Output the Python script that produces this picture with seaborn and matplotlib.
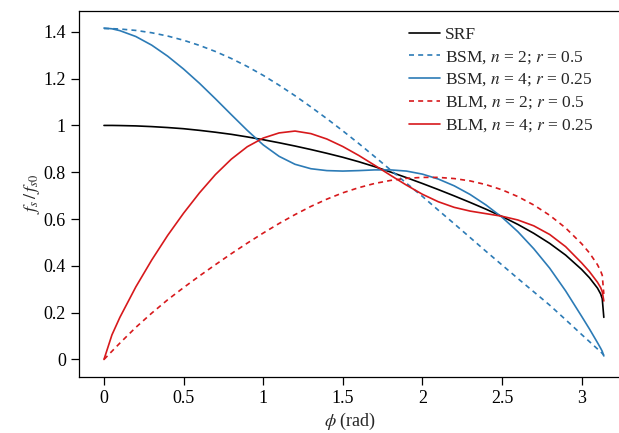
import matplotlib
matplotlib.use("Agg")
import matplotlib.pyplot as plt
import seaborn as sns

# phi grid (rad)
phi = [0, 0.05, 0.1, 0.2, 0.3, 0.4, 0.5, 0.6, 0.7, 0.8, 0.9, 1.0, 1.1, 1.2, 1.3,
       1.4, 1.5, 1.6, 1.7, 1.8, 1.9, 2.0, 2.1, 2.2, 2.3, 2.4, 2.5, 2.6, 2.7, 2.8,
       2.9, 3.0, 3.05, 3.1, 3.12, 3.13, 3.14]

srf = [1.0, 1.0, 0.9995, 0.998, 0.995, 0.991, 0.986, 0.979, 0.971, 0.962, 0.951,
       0.939, 0.926, 0.912, 0.897, 0.881, 0.864, 0.845, 0.824, 0.801, 0.777, 0.752,
       0.726, 0.699, 0.671, 0.642, 0.611, 0.577, 0.539, 0.496, 0.446, 0.385, 0.349,
       0.305, 0.28, 0.26, 0.18]

bsm_n2 = [1.414, 1.4135, 1.412, 1.406, 1.396, 1.382, 1.364, 1.342, 1.316, 1.286,
          1.252, 1.214, 1.172, 1.127, 1.079, 1.029, 0.977, 0.923, 0.867, 0.81,
          0.753, 0.697, 0.638, 0.58, 0.521, 0.462, 0.404, 0.346, 0.289, 0.232,
          0.17, 0.107, 0.076, 0.045, 0.033, 0.026, 0.018]

bsm_n4 = [1.416, 1.413, 1.405, 1.38, 1.343, 1.296, 1.241, 1.18, 1.114, 1.046, 0.979,
          0.917, 0.868, 0.834, 0.815, 0.807, 0.805, 0.807, 0.81, 0.81, 0.805, 0.792,
          0.771, 0.742, 0.705, 0.66, 0.608, 0.546, 0.473, 0.39, 0.293, 0.185, 0.13,
          0.072, 0.048, 0.035, 0.015]

blm_n2 = [0.0, 0.035, 0.07, 0.137, 0.198, 0.255, 0.307, 0.357, 0.405, 0.452, 0.497,
          0.54, 0.581, 0.619, 0.654, 0.685, 0.712, 0.734, 0.752, 0.765, 0.774, 0.778,
          0.778, 0.773, 0.763, 0.747, 0.725, 0.696, 0.66, 0.616, 0.562, 0.495, 0.455,
          0.405, 0.378, 0.36, 0.28]

blm_n4 = [0.0, 0.105, 0.18, 0.31, 0.425, 0.53, 0.625, 0.712, 0.79, 0.856, 0.909,
          0.946, 0.968, 0.976, 0.965, 0.942, 0.91, 0.872, 0.83, 0.787, 0.745, 0.706,
          0.674, 0.65, 0.634, 0.623, 0.612, 0.596, 0.571, 0.534, 0.482, 0.413, 0.375,
          0.33, 0.307, 0.29, 0.25]

labels = ["SRF",
          r"BSM, $n$ = 2; $r$ = 0.5",
          r"BSM, $n$ = 4; $r$ = 0.25",
          r"BLM, $n$ = 2; $r$ = 0.5",
          r"BLM, $n$ = 4; $r$ = 0.25"]

xticks = [0, 0.5, 1, 1.5, 2, 2.5, 3]
xticklabels = ["0", "0.5", "1", "1.5", "2", "2.5", "3"]
yticks = [0, 0.2, 0.4, 0.6, 0.8, 1.0, 1.2, 1.4]
yticklabels = ["0", "0.2", "0.4", "0.6", "0.8", "1", "1.2", "1.4"]

sns.set_style("ticks")
plt.rcParams["font.family"] = "serif"
plt.rcParams["font.serif"] = ["Liberation Serif", "Times New Roman", "DejaVu Serif"]
plt.rcParams["mathtext.fontset"] = "stix"
plt.rcParams["font.size"] = 12

blue = "#2c7bb6"
red = "#d7191c"
dash = (0, (3, 2.5))

fig = plt.figure(figsize=(6.19, 4.33), dpi=100)
ax = fig.add_axes([0.1276, 0.1293, 0.8772, 0.8453])

lw = 1.2
sns.lineplot(x=phi, y=srf, color="black", lw=lw, label=labels[0], ax=ax)
sns.lineplot(x=phi, y=bsm_n2, color=blue, lw=lw, linestyle=dash, label=labels[1], ax=ax)
sns.lineplot(x=phi, y=bsm_n4, color=blue, lw=lw, label=labels[2], ax=ax)
sns.lineplot(x=phi, y=blm_n2, color=red, lw=lw, linestyle=dash, label=labels[3], ax=ax)
sns.lineplot(x=phi, y=blm_n4, color=red, lw=lw, label=labels[4], ax=ax)

ax.set_xlim(-0.157, 3.254)
ax.set_ylim(-0.075, 1.489)
ax.set_xticks(xticks)
ax.set_xticklabels(xticklabels)
ax.set_yticks(yticks)
ax.set_yticklabels(yticklabels)
ax.tick_params(direction="out", length=5.5, width=0.9, pad=4, labelsize=13, colors="black")
for s in ax.spines.values():
    s.set_linewidth(0.9)
    s.set_color("black")

ax.set_xlabel(r"$\phi$ (rad)", fontsize=13, labelpad=3)
ax.set_ylabel(r"$f_s\,/\,f_{s0}$", fontsize=13, labelpad=1)

leg = ax.legend(loc="upper left", bbox_to_anchor=(400 / 619, 1 - 18 / 433),
                bbox_transform=fig.transFigure, frameon=False, fontsize=12.5,
                handlelength=1.8, handletextpad=0.3, labelspacing=0.35, borderpad=0)

fig.savefig("out.png", dpi=100)
